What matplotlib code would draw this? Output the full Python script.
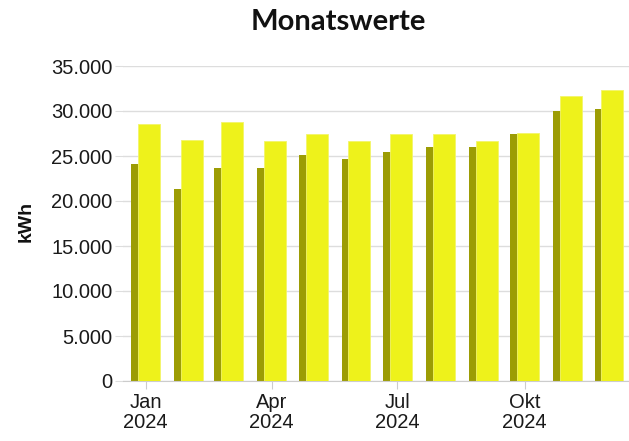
import matplotlib.pyplot as plt
from matplotlib.ticker import FuncFormatter
from datetime import datetime, timedelta

# monthly values in kWh
months = [datetime(2024, m, 1) for m in range(1, 13)]
dark_vals = [24150, 21350, 23630, 23630, 25150, 24630, 25470, 26030, 25960, 27500, 30050, 30200]
yellow_vals = [28570, 26800, 28760, 26700, 27500, 26620, 27500, 27500, 26720, 27540, 31640, 32340]

tick_dates = [datetime(2024, 1, 1), datetime(2024, 4, 1), datetime(2024, 7, 1), datetime(2024, 10, 1)]
tick_labels = ["Jan\n2024", "Apr\n2024", "Jul\n2024", "Okt\n2024"]

fig = plt.figure(figsize=(6.29, 4.41), dpi=100)
ax = fig.add_axes([123 / 629, 1 - 381 / 441, 1 - 123 / 629, (381 - 66) / 441])

w = 15.9
off = timedelta(days=2.5)
ax.bar([d - off for d in months], dark_vals, width=w, color="#9c9c04", zorder=2)
ax.bar([d + off for d in months], yellow_vals, width=w, color="#eef21b",
       edgecolor="#f3f56a", linewidth=0.6, zorder=3)

ax.set_xlim(datetime(2023, 12, 15, 12), datetime(2024, 12, 15, 12))
ax.set_ylim(0, 35000)
ax.set_yticks(range(0, 35001, 5000))
ax.yaxis.set_major_formatter(FuncFormatter(lambda v, p: f"{int(v):,}".replace(",", ".")))
ax.set_xticks(tick_dates)
ax.set_xticklabels(tick_labels)

ax.grid(axis="y", color="#dddddd", linewidth=1, zorder=0)
ax.set_axisbelow(True)
for s in ["top", "right", "left"]:
    ax.spines[s].set_visible(False)
ax.spines["bottom"].set_color("#cccccc")
ax.tick_params(axis="y", length=6, color="#dddddd", labelsize=14.5, labelcolor="#1a1a1a", pad=1.5)
ax.tick_params(axis="x", length=6, color="#cccccc", labelsize=14.5, labelcolor="#1a1a1a", pad=3)
for lab in ax.get_xticklabels() + ax.get_yticklabels():
    lab.set_family("Liberation Sans")
    lab.set_linespacing(1.0)

fig.text(26 / 629, 1 - 221 / 441, "kWh", rotation=90, ha="center", va="center",
         fontsize=14, fontweight="bold", family="Liberation Sans", color="#111111")
fig.text(338 / 629, 1 - 22 / 441, "Monatswerte", ha="center", va="center",
         fontsize=21, fontweight="bold", family="Lato", color="#111111")

fig.savefig("out.png", dpi=100)
